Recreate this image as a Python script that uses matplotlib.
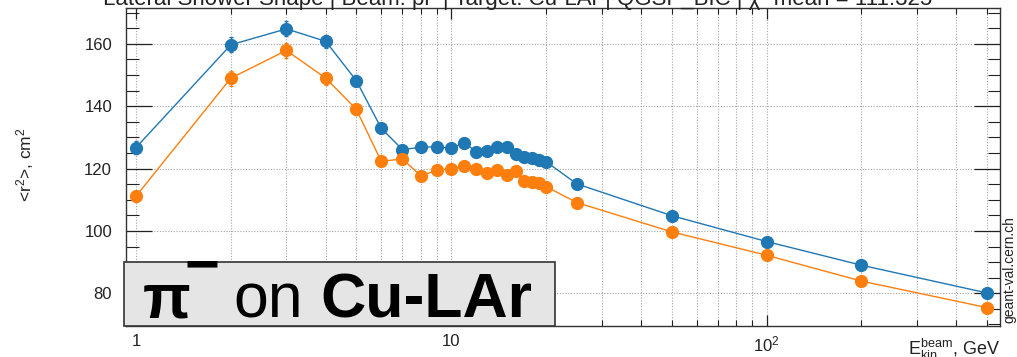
import numpy as np
import matplotlib
matplotlib.use("Agg")
import matplotlib.pyplot as plt
import matplotlib.patches as patches
from matplotlib.ticker import LogLocator, MultipleLocator, FixedLocator, FixedFormatter, NullFormatter

plt.rcParams['font.family'] = ['Liberation Sans', 'DejaVu Sans']
plt.rcParams['mathtext.fontset'] = 'custom'
plt.rcParams['mathtext.rm'] = 'Liberation Sans'
plt.rcParams['mathtext.it'] = 'Liberation Sans:italic'
plt.rcParams['mathtext.bf'] = 'Liberation Sans:bold'

# beam kinetic energies, GeV
energies = [1, 2, 3, 4, 5, 6, 7, 8, 9, 10, 11, 12, 13, 14, 15, 16, 17, 18, 19, 20,
            25, 50, 100, 200, 500]

# <r^2> in cm^2 for the two samples
r2_blue = [126.7, 159.7, 164.8, 160.8, 148.2, 132.9, 126.1, 126.8, 127.0, 126.5,
           128.3, 125.4, 125.6, 126.8, 126.9, 124.7, 123.8, 123.4, 122.9, 122.2,
           115.1, 104.9, 96.6, 89.0, 80.1]
r2_orange = [111.1, 149.0, 157.9, 149.0, 139.0, 122.3, 123.1, 117.7, 119.4, 120.0,
             120.7, 119.8, 118.6, 119.4, 118.0, 119.2, 116.0, 115.8, 115.3, 114.2,
             109.1, 99.7, 92.2, 83.9, 75.4]
err_blue = [2.1, 2.4, 2.4, 2.1, 1.7, 1.0, 0.8, 0.8, 0.8, 0.8, 0.8, 0.8, 0.8, 0.8,
            0.8, 0.8, 0.8, 0.8, 0.8, 0.8, 0.7, 0.6, 0.5, 0.5, 0.5]
err_orange = [1.8, 2.4, 2.4, 2.1, 1.7, 1.0, 0.8, 0.8, 0.8, 0.8, 0.8, 0.8, 0.8, 0.8,
              0.8, 0.8, 0.8, 0.8, 0.8, 0.8, 0.7, 0.6, 0.5, 0.5, 0.5]

title = ("Lateral Shower Shape | Beam: pi- | Target: Cu-LAr | QGSP_BIC | "
         "\u03c7\u00b2 mean = 111.325")

W, H = 1017, 357
fig = plt.figure(figsize=(W / 100, H / 100), dpi=100)


def fx(px):
    return px / W


def fy(py):
    return 1 - py / H


ax = fig.add_axes([fx(126), fy(326), fx(1000) - fx(126), fy(8) - fy(326)])

for vals, errs, col in [(r2_blue, err_blue, '#1f77b4'), (r2_orange, err_orange, '#ff7f0e')]:
    ax.errorbar(energies, vals, yerr=errs, color=col, marker='o', markersize=8.5,
                linewidth=1.0, elinewidth=1.0, capsize=1.5, zorder=3)

ax.set_xscale('log')
ax.set_xlim(0.93, 550)
ax.set_ylim(69.5, 171.5)

ax.xaxis.set_major_locator(FixedLocator([1, 10, 100]))
ax.xaxis.set_major_formatter(FixedFormatter(['1', '10', r'10$^{2}$']))
ax.xaxis.set_minor_locator(LogLocator(base=10, subs=np.arange(2, 10)))
ax.xaxis.set_minor_formatter(NullFormatter())
ax.yaxis.set_major_locator(MultipleLocator(20))
ax.yaxis.set_minor_locator(MultipleLocator(5))

ax.tick_params(which='both', direction='in', top=True, right=True, colors='#222222',
               labelsize=12)
ax.tick_params(axis='y', which='major', length=19, width=0.9, pad=10)
ax.tick_params(axis='y', which='minor', length=9, width=0.8)
ax.tick_params(axis='x', which='major', length=8, width=0.9, pad=6)
ax.tick_params(axis='x', which='minor', length=4, width=0.8)

ax.grid(True, which='major', axis='both', color='#a5a5a5', linestyle=(0, (1, 1.5)), linewidth=0.8)
ax.grid(True, which='minor', axis='x', color='#a5a5a5', linestyle=(0, (1, 1.5)), linewidth=0.8)
for sp in ax.spines.values():
    sp.set_color('#333333')
    sp.set_linewidth(1.0)

# title sits at the very top edge of the canvas
fig.text(fx(103), fy(5), title, ha='left', va='baseline', fontsize=16, color='#222222')

fig.text(fx(25), fy(165), r'<r$^{2}$>, cm$^{2}$', rotation=90, ha='center', va='center',
         fontsize=12.5, color='#222222')
fig.text(fx(1000), fy(355), r'E$_{\mathrm{kin}}^{\mathrm{beam}}$, GeV', ha='right',
         va='baseline', fontsize=13, color='#222222')
fig.text(fx(1009), fy(323), 'geant-val.cern.ch', rotation=90, ha='center', va='bottom',
         fontsize=10, color='#222222', family=['Liberation Sans Narrow', 'Liberation Sans'])

# label box in the lower left corner
box = patches.Rectangle((fx(124), fy(326)), fx(555) - fx(124), fy(262) - fy(326),
                        transform=fig.transFigure, facecolor='#e5e5e5', edgecolor='#333333',
                        linewidth=1.2, zorder=10)
fig.add_artist(box)
fig.text(fx(143), fy(317), '\u03c0', fontsize=45, fontweight='bold', ha='left',
         va='baseline', zorder=11)
fig.text(fx(202), fy(268), '\u2212', fontsize=43, fontweight='bold', ha='center',
         va='center', zorder=11)
fig.text(fx(233), fy(317), 'on', fontsize=45, ha='left', va='baseline', zorder=11)
fig.text(fx(320), fy(317), 'Cu-LAr', fontsize=45, fontweight='bold', ha='left',
         va='baseline', zorder=11)

fig.savefig('out.png', dpi=100)
